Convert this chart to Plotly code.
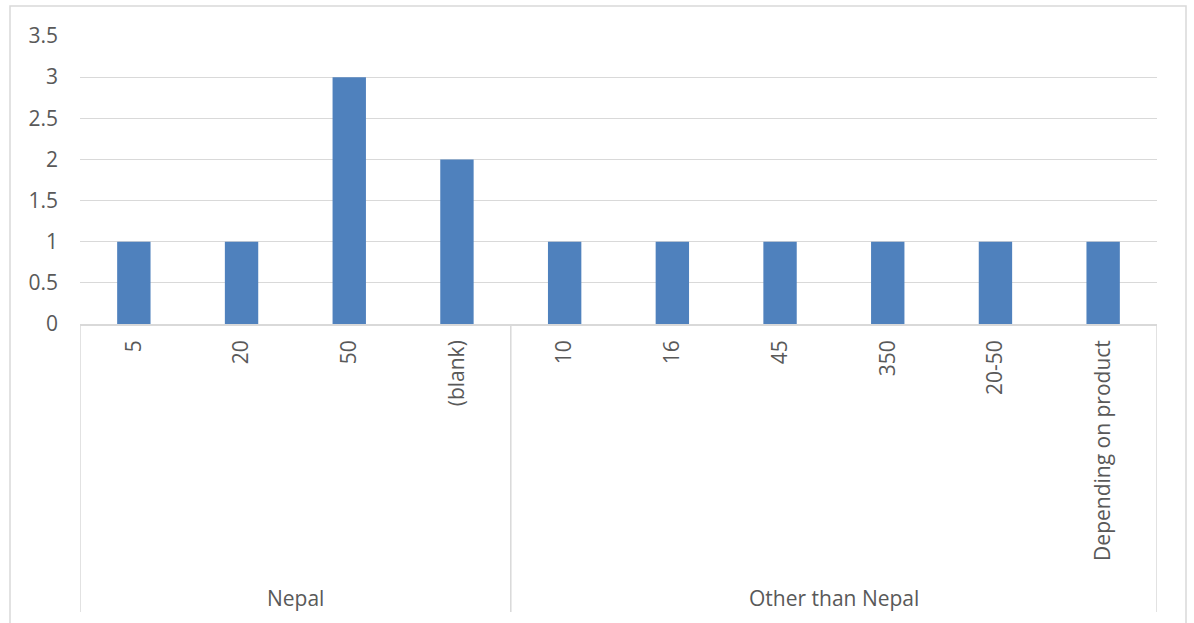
import plotly.graph_objects as go

groups = ["Nepal", "Other than Nepal"]
group_sizes = [4, 6]
categories = ["5", "20", "50", "(blank)", "10", "16", "45", "350", "20-50", "Depending on product"]
values = [1, 1, 3, 2, 1, 1, 1, 1, 1, 1]
y_ticks = [0, 0.5, 1, 1.5, 2, 2.5, 3, 3.5]

W, H = 1194, 623
L, R, T, B = 80, 1157, 36, 324
pw, ph = R - L, B - T

def px_x(p):
    return (p - L) / pw

def px_y(p):
    return (B - p) / ph

xs = list(range(len(categories)))
fig = go.Figure(go.Bar(x=xs, y=values, marker=dict(color="#4F81BD", line=dict(width=0)),
                       width=0.31, hoverinfo="skip"))

font = dict(family="Open Sans, sans-serif", size=21, color="#595959")

shapes = []
# outer chart border
shapes.append(dict(type="rect", xref="paper", yref="paper", x0=px_x(10), x1=px_x(1186),
                   y0=px_y(640), y1=px_y(6), line=dict(color="#D9D9D9", width=1.5), layer="below"))
# group separators
bounds = [-0.5]
acc = -0.5
for s in group_sizes:
    acc += s
    bounds.append(acc)
for b in bounds:
    shapes.append(dict(type="line", xref="x", yref="paper", x0=b, x1=b, y0=0, y1=px_y(612),
                       line=dict(color="#D9D9D9", width=1.5)))

annotations = []
start = -0.5
for g, s in zip(groups, group_sizes):
    annotations.append(dict(x=start + s / 2, y=px_y(598), xref="x", yref="paper", text=g,
                            showarrow=False, font=font, xanchor="center", yanchor="middle"))
    start += s

fig.update_layout(
    width=W, height=H,
    margin=dict(l=L, r=W - R, t=T, b=H - B),
    paper_bgcolor="white", plot_bgcolor="white",
    showlegend=False,
    shapes=shapes, annotations=annotations,
    font=font,
    xaxis=dict(tickmode="array", tickvals=xs, ticktext=categories, tickangle=-90,
               range=[-0.5, len(categories) - 0.5], showgrid=False, zeroline=False,
               showline=True, linecolor="#D9D9D9", linewidth=1.5, ticks="",
               ticklabelstandoff=6, tickfont=font, fixedrange=True),
    yaxis=dict(range=[0, 3.5], tickmode="array", tickvals=y_ticks,
               ticktext=[f"{v:g}" for v in y_ticks], showgrid=True, gridcolor="#D9D9D9",
               gridwidth=1, zeroline=False, showline=False, ticks="", ticklabelstandoff=21,
               tickfont=font, fixedrange=True),
)

fig.write_html("out.html")
